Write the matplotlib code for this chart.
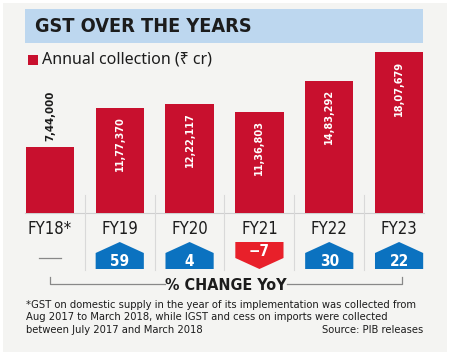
import matplotlib
matplotlib.use('Agg')
import matplotlib.pyplot as plt
from matplotlib.patches import Polygon, Rectangle
from matplotlib.transforms import blended_transform_factory

years = ['FY18*', 'FY19', 'FY20', 'FY21', 'FY22', 'FY23']
collection = [744000, 1177370, 1222117, 1136803, 1483292, 1807679]
value_labels = ['7,44,000', '11,77,370', '12,22,117', '11,36,803', '14,83,292', '18,07,679']
yoy = [None, 59, 4, -7, 30, 22]

W, H = 474, 358
NARROW = dict(family='DejaVu Sans', stretch='condensed')
REG = ['Noto Sans', 'DejaVu Sans']
RED = '#c8102e'
BLUE = '#0b72c0'
DOWN = '#e8202a'
INK = '#1c1c1c'

fig = plt.figure(figsize=(W / 100, H / 100), dpi=100)
fig.patch.set_facecolor('white')

# pixel-space layer for the card and furniture
bg = fig.add_axes([0, 0, 1, 1])
bg.set_xlim(0, W)
bg.set_ylim(H, 0)
bg.axis('off')
bg.add_patch(Rectangle((3, 3), 444, 349, fc='#f4f4f2', ec='none'))
bg.add_patch(Rectangle((25, 9), 398, 34, fc='#bdd7ef', ec='none'))
bg.text(35, 27, 'GST OVER THE YEARS', **NARROW, weight='bold',
        fontsize=14.2, color=INK, va='center', ha='left')
bg.add_patch(Rectangle((28, 55), 10, 10, fc=RED, ec='none'))
bg.text(42, 60, 'Annual collection (₹ cr)', family=REG, fontsize=11.5,
        color=INK, va='center', ha='left')

# bars
ax = fig.add_axes([15 / W, (H - 213) / H, 419 / W, 193 / H])
ax.patch.set_facecolor('none')
ax.bar(range(len(years)), collection, width=0.69, color=RED, zorder=3)
ax.set_xlim(-0.5, len(years) - 0.5)
ax.set_ylim(0, 193 / 8.9e-5)
ax.set_yticks([])
for s in ax.spines.values():
    s.set_visible(False)
ax.set_xticks(range(len(years)), years, **NARROW, fontsize=12, color=INK)
ax.tick_params(axis='x', length=0, pad=5)

for i, (v, lab) in enumerate(zip(collection, value_labels)):
    if i == 0:
        ax.annotate(lab, (i, v), xytext=(0, 4), textcoords='offset points',
                    rotation=90, ha='center', va='bottom', **NARROW,
                    weight='bold', fontsize=8.2, color=INK)
    else:
        ax.annotate(lab, (i, v), xytext=(0, -6), textcoords='offset points',
                    rotation=90, ha='center', va='top', **NARROW,
                    weight='bold', fontsize=7.8, color='white', zorder=4)

# x from the bar axes, y in pixels
tr = blended_transform_factory(ax.transData, bg.transData)
bg.plot([-0.5 + 0.15, len(years) - 0.5 - 0.15], [213, 213], transform=tr,
        color='#cfcfcf', lw=0.8, zorder=1)
for i in range(len(years) - 1):
    bg.plot([i + 0.5, i + 0.5], [195, 270], transform=tr, color='#d9d9d9', lw=0.8)

hw = 0.345
for i, p in enumerate(yoy):
    if p is None:
        bg.plot([i - 0.16, i + 0.16], [258, 258], transform=tr, color='#888888', lw=0.9)
        continue
    if p >= 0:
        pts = [(i - hw, 269), (i - hw, 253), (i, 242), (i + hw, 253), (i + hw, 269)]
        bg.add_patch(Polygon(pts, closed=True, fc=BLUE, ec='none', transform=tr))
        bg.text(i, 261.5, str(p), transform=tr, ha='center', va='center',
                **NARROW, weight='bold', fontsize=11, color='white')
    else:
        pts = [(i - hw, 242), (i + hw, 242), (i + hw, 258), (i, 269), (i - hw, 258)]
        bg.add_patch(Polygon(pts, closed=True, fc=DOWN, ec='none', transform=tr))
        bg.text(i, 251, '\u2212' + str(abs(p)), transform=tr, ha='center', va='center',
                **NARROW, weight='bold', fontsize=11, color='white')

# bracket under the arrows
bg.plot([50, 50, 165], [277, 284, 284], color='#888888', lw=0.9)
bg.plot([287, 402, 402], [284, 284, 277], color='#888888', lw=0.9)
bg.text(226, 285, '% CHANGE YoY', **NARROW, weight='bold', fontsize=11.5,
        color=INK, ha='center', va='center')

notes = ['*GST on domestic supply in the year of its implementation was collected from',
         'Aug 2017 to March 2018, while IGST and cess on imports were collected',
         'between July 2017 and March 2018']
for k, line in enumerate(notes):
    bg.text(26, 305 + 12.5 * k, line, **NARROW, fontsize=8.0,
            color=INK, ha='left', va='center')
bg.text(423, 330, 'Source: PIB releases', **NARROW, fontsize=8.0,
        color=INK, ha='right', va='center')

fig.savefig('out.png', dpi=100, facecolor='white')
